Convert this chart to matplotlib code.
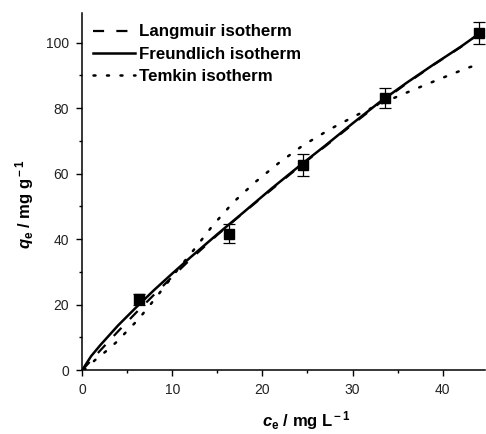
import numpy as np
import matplotlib
matplotlib.use("Agg")
import matplotlib.pyplot as plt
from matplotlib.ticker import MultipleLocator

plt.rcParams['font.family'] = ['Liberation Sans', 'DejaVu Sans']
plt.rcParams['mathtext.fontset'] = 'custom'
plt.rcParams['mathtext.rm'] = 'Liberation Sans:bold'
plt.rcParams['mathtext.it'] = 'Liberation Sans:italic:bold'
plt.rcParams['mathtext.bf'] = 'Liberation Sans:bold'

# experimental equilibrium data
ce = [6.35, 16.25, 24.45, 33.6, 44.0]
qe = [21.6, 41.7, 62.7, 83.1, 102.9]
qe_err = [1.8, 2.9, 3.3, 3.0, 3.3]

# fitted isotherm curves
c_fit = [0, 1, 2, 4, 6, 8, 10, 12, 15, 18, 21, 24, 27, 30, 33, 36, 39, 42, 44.2]
q_langmuir = [0, 3.0, 6.0, 11.9, 17.6, 23.1, 28.5, 33.8, 41.3, 48.3, 55.1,
              61.9, 68.4, 75.0, 81.5, 87.5, 93.2, 98.6, 103.0]
q_freundlich = [0, 4.3, 7.6, 13.7, 19.2, 24.5, 29.5, 34.4, 41.5, 48.4, 55.4,
                62.1, 68.6, 75.3, 81.8, 87.7, 93.3, 98.7, 103.0]

c_temkin = [0.2, 1.4, 2.7, 3.9, 5.0, 6.2, 7.3, 8.4, 10.4, 12.5, 14.5, 16.8,
            19.2, 21.8, 24.5, 27.6, 30.5, 33.5, 36.6, 39.7, 42.8, 44.0]
q_temkin = [0, 3.0, 5.9, 8.8, 12.0, 15.4, 19.1, 22.9, 30.0, 37.1, 44.2, 51.3,
            57.4, 63.2, 68.6, 73.7, 77.9, 81.8, 85.4, 88.9, 92.3, 93.3]

fig = plt.figure(figsize=(4.86, 4.34), dpi=100)
ax = fig.add_axes([0.169, 0.147, 0.829, 0.823])

ax.plot(c_fit, q_langmuir, color='black', lw=1.6, linestyle=(0, (5, 5.5)),
        label='Langmuir isotherm')
ax.plot(c_fit, q_freundlich, color='black', lw=1.8, label='Freundlich isotherm')
ax.plot(c_temkin, q_temkin, color='black', lw=1.8, linestyle=(0, (0.8, 4.6)),
        dash_capstyle='round', label='Temkin isotherm')

ax.errorbar(ce, qe, yerr=qe_err, fmt='s', color='black', ms=7,
            elinewidth=0.9, capsize=4.5, capthick=0.9, zorder=5)

ax.set_xlim(0, 44.7)
ax.set_ylim(0, 109)
ax.xaxis.set_major_locator(MultipleLocator(10))
ax.xaxis.set_minor_locator(MultipleLocator(5))
ax.yaxis.set_major_locator(MultipleLocator(20))
ax.yaxis.set_minor_locator(MultipleLocator(10))

for s in ['top', 'right']:
    ax.spines[s].set_visible(False)
for s in ['left', 'bottom']:
    ax.spines[s].set_linewidth(1.1)

ax.tick_params(which='major', direction='out', length=4.5, width=1.0, pad=5,
               labelsize=10, colors='black', labelcolor='#222222')
ax.tick_params(which='minor', direction='out', length=2.5, width=1.0)

ax.set_xlabel(r'$\it{c}_{\rm e}$ / mg L$^{\rm -1}$', fontsize=12,
              fontweight='bold')
ax.xaxis.set_label_coords(0.556, -0.108)
ax.set_ylabel(r'$\it{q}_{\rm e}$ / mg g$^{\rm -1}$', fontsize=12,
              fontweight='bold')
ax.yaxis.set_label_coords(-0.115, 0.465)

leg = ax.legend(loc='upper left', frameon=False, handlelength=2.5,
                handletextpad=0.2, borderaxespad=0, borderpad=0,
                labelspacing=0.42, prop={'weight': 'bold', 'size': 12.2},
                bbox_to_anchor=(0.027, 0.968))

fig.savefig('out.png', dpi=100)
